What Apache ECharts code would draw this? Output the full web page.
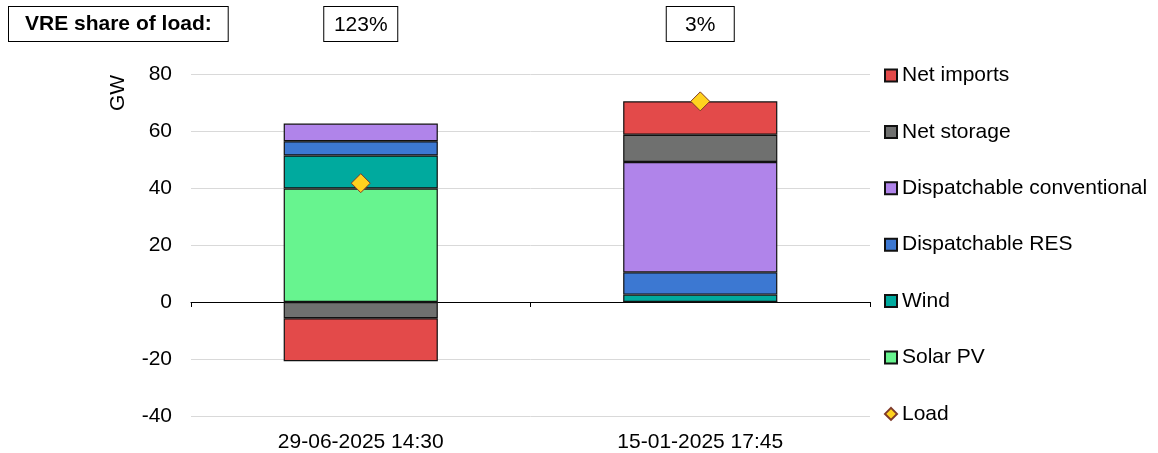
<!DOCTYPE html>
<html>
<head>
<meta charset="utf-8">
<script src="https://cdn.jsdelivr.net/npm/echarts@6/dist/echarts.min.js"></script>
<style>
html,body{margin:0;padding:0;background:#fff;}
#main{width:1158px;height:453px;}
</style>
</head>
<body>
<div id="main"></div>
<script>
// ---- data ----
var categories = ['29-06-2025 14:30', '15-01-2025 17:45'];
var vreShare = ['123%', '3%'];
var solarPV = [39.8, 0];
var wind = [11.6, 2.6];
var dispatchableRES = [5.0, 7.8];
var dispatchableConventional = [6.2, 38.7];
var netStorage = [-5.7, 9.6];
var netImports = [-15.1, 11.7];
var load = [41.7, 70.4];
var yTicks = { min: -40, max: 80, interval: 20 };

var FONT = 'Liberation Sans, Arial, sans-serif';
var chart = echarts.init(document.getElementById('main'));

function barSeries(name, data, color) {
  return {
    name: name, type: 'bar', stack: 'total', data: data,
    xAxisIndex: 0, yAxisIndex: 0,
    barCategoryGap: '54.6%',
    itemStyle: { color: color, borderColor: '#111', borderWidth: 1.2 },
    emphasis: { disabled: true }
  };
}

var option = {
  animation: false,
  backgroundColor: '#ffffff',
  textStyle: { fontFamily: FONT },
  grid: { left: 191, right: 288, top: 74, bottom: 37 },
  graphic: [
    {
      type: 'text', left: 8, top: 6,
      style: {
        text: 'VRE share of load:', font: 'bold 21px ' + FONT, fill: '#000',
        backgroundColor: '#fff', borderColor: '#000', borderWidth: 1,
        padding: [7, 16, 6, 16]
      }
    },
    {
      type: 'text', x: 118, y: 93, rotation: Math.PI / 2,
      style: { text: 'GW', font: '21px ' + FONT, fill: '#000', align: 'center', verticalAlign: 'middle' }
    }
  ],
  legend: {
    orient: 'vertical', left: 879, top: 58.5,
    itemWidth: 12, itemHeight: 12, itemGap: 32.4,
    textStyle: { fontSize: 21, color: '#000', fontFamily: FONT, lineHeight: 24 },
    data: [
      { name: 'Net imports', icon: 'rect' },
      { name: 'Net storage', icon: 'rect' },
      { name: 'Dispatchable conventional', icon: 'rect' },
      { name: 'Dispatchable RES', icon: 'rect' },
      { name: 'Wind', icon: 'rect' },
      { name: 'Solar PV', icon: 'rect' },
      { name: 'Load', icon: 'diamond' }
    ]
  },
  xAxis: [
    {
      type: 'category', position: 'bottom', data: categories,
      axisLine: { show: false, onZero: false }, axisTick: { show: false },
      axisLabel: { fontSize: 21, color: '#000', margin: 16, fontFamily: FONT }
    },
    {
      type: 'category', position: 'top', data: categories,
      axisLine: { show: false, onZero: false }, axisTick: { show: false },
      axisLabel: {
        margin: 33,
        formatter: function (v, i) { return '{b' + i + '|' + vreShare[i] + '}'; },
        rich: {
          b0: { fontSize: 21, color: '#000', fontFamily: FONT, width: 55, align: 'center',
                borderColor: '#000', borderWidth: 1, padding: [8, 9, 5, 9], backgroundColor: '#fff' },
          b1: { fontSize: 21, color: '#000', fontFamily: FONT, width: 49, align: 'center',
                borderColor: '#000', borderWidth: 1, padding: [8, 9, 5, 9], backgroundColor: '#fff' }
        }
      }
    },
    {
      type: 'category', position: 'bottom', data: categories,
      axisLine: { show: true, onZero: true, onZeroAxisIndex: 0, lineStyle: { color: '#000', width: 1 } },
      axisTick: { show: true, length: 5, lineStyle: { color: '#000' } },
      axisLabel: { show: false }
    }
  ],
  yAxis: {
    type: 'value', min: yTicks.min, max: yTicks.max, interval: yTicks.interval,
    axisLine: { show: false }, axisTick: { show: false },
    axisLabel: { fontSize: 21, color: '#000', margin: 19, fontFamily: FONT },
    splitLine: { lineStyle: { color: '#d9d9d9', width: 1 } }
  },
  series: [
    barSeries('Solar PV', solarPV, '#67F48F'),
    barSeries('Wind', wind, '#00AA9E'),
    barSeries('Dispatchable RES', dispatchableRES, '#3C78D2'),
    barSeries('Dispatchable conventional', dispatchableConventional, '#B084EA'),
    barSeries('Net storage', netStorage, '#6F706F'),
    barSeries('Net imports', netImports, '#E34A4A'),
    {
      name: 'Load', type: 'scatter', data: load, xAxisIndex: 0, yAxisIndex: 0,
      symbol: 'diamond', symbolSize: 19, z: 5,
      itemStyle: { color: '#FFD21F', borderColor: '#7F3A2A', borderWidth: 1, opacity: 1 },
      emphasis: { disabled: true }
    }
  ]
};
chart.setOption(option);
</script>
</body>
</html>
